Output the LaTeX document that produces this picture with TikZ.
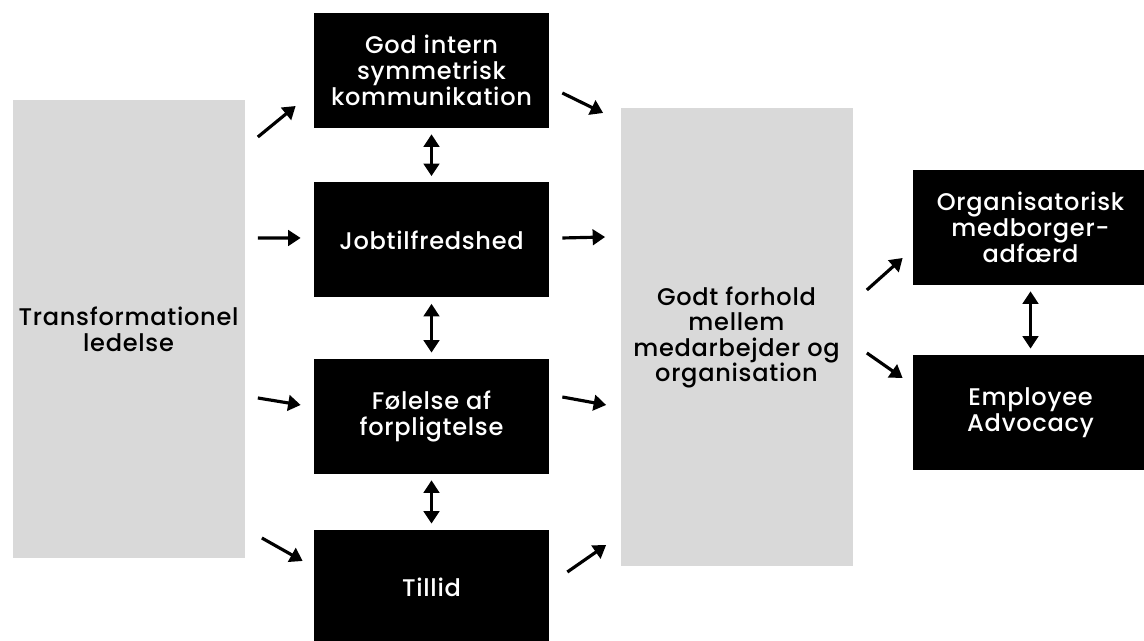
\documentclass[tikz,border=0pt]{standalone}
\usepackage{fontspec}
\setmainfont{Poppins}[UprightFont={* Medium},LetterSpace=3.0]
\usetikzlibrary{arrows.meta,positioning,calc}
\definecolor{BoxGrey}{HTML}{D9D9D9}

\begin{document}
\begin{tikzpicture}[
    greybox/.style={fill=BoxGrey,minimum width=4.64cm,minimum height=9.16cm,align=center,inner sep=0pt,font=\fontsize{13.7}{14.6}\selectfont},
    blackbox/.style={fill=black,text=white,minimum width=4.7cm,minimum height=2.3cm,align=center,inner sep=0pt,font=\fontsize{13.7}{14.6}\selectfont},
    arr/.style={-{Triangle[length=2.5mm,width=3.1mm]},line width=1.8pt},
    dbl/.style={{Triangle[length=2.5mm,width=3.1mm]}-{Triangle[length=2.5mm,width=3.1mm]},line width=1.8pt,shorten <=1.2mm,shorten >=1.2mm}
  ]
    \useasboundingbox (0,0) rectangle (22.88,12.82);
    % left and middle columns
    \node[greybox] (lead) at (2.57,6.24) {Transformationel\\ledelse};
    \node[blackbox] (kom) at (8.63,11.41) {God intern\\symmetrisk\\kommunikation};
    \node[blackbox] (job) at (8.63,8.02) {Jobtilfredshed};
    \node[blackbox] (fol) at (8.63,4.49) {Følelse af\\forpligtelse};
    \node[blackbox] (til) at (8.63,1.07) {Tillid};
    \node[greybox] (forhold) at (14.73,6.07) {Godt forhold\\mellem\\medarbejder og\\organisation};
    % right column
    \node[blackbox] (org) at (20.61,8.27) {Organisatorisk\\medborger-\\adfærd};
    \node[blackbox] (adv) at (20.61,4.57) {Employee\\Advocacy};

    \draw[arr] ([shift={(0.26,3.84)}]lead.east) -- ([shift={(-0.36,-0.71)}]kom.west);
    \draw[arr] ([shift={(0.26,1.82)}]lead.east) -- ([shift={(-0.26,0.04)}]job.west);
    \draw[arr] ([shift={(0.26,-1.38)}]lead.east) -- ([shift={(-0.26,0.23)}]fol.west);
    \draw[arr] ([shift={(0.34,-4.18)}]lead.east) -- ([shift={(-0.22,0.53)}]til.west);

    \draw[arr] ([shift={(0.26,-0.45)}]kom.east) -- ([shift={(-0.34,4.49)}]forhold.west);
    \draw[arr] ([shift={(0.26,0.04)}]job.east) -- ([shift={(-0.30,2.01)}]forhold.west);
    \draw[arr] ([shift={(0.26,0.39)}]fol.east) -- ([shift={(-0.28,-1.35)}]forhold.west);
    \draw[arr] ([shift={(0.36,0.31)}]til.east) -- ([shift={(-0.28,-4.15)}]forhold.west);

    \draw[arr] ([shift={(0.28,0.95)}]forhold.east) -- ([shift={(-0.20,-0.61)}]org.west);
    \draw[arr] ([shift={(0.28,-0.31)}]forhold.east) -- ([shift={(-0.20,0.69)}]adv.west);

    \draw[dbl] (kom) -- (job);
    \draw[dbl] (job) -- (fol);
    \draw[dbl] (fol) -- (til);
    \draw[dbl] (org) -- (adv);
  \end{tikzpicture}
\end{document}
